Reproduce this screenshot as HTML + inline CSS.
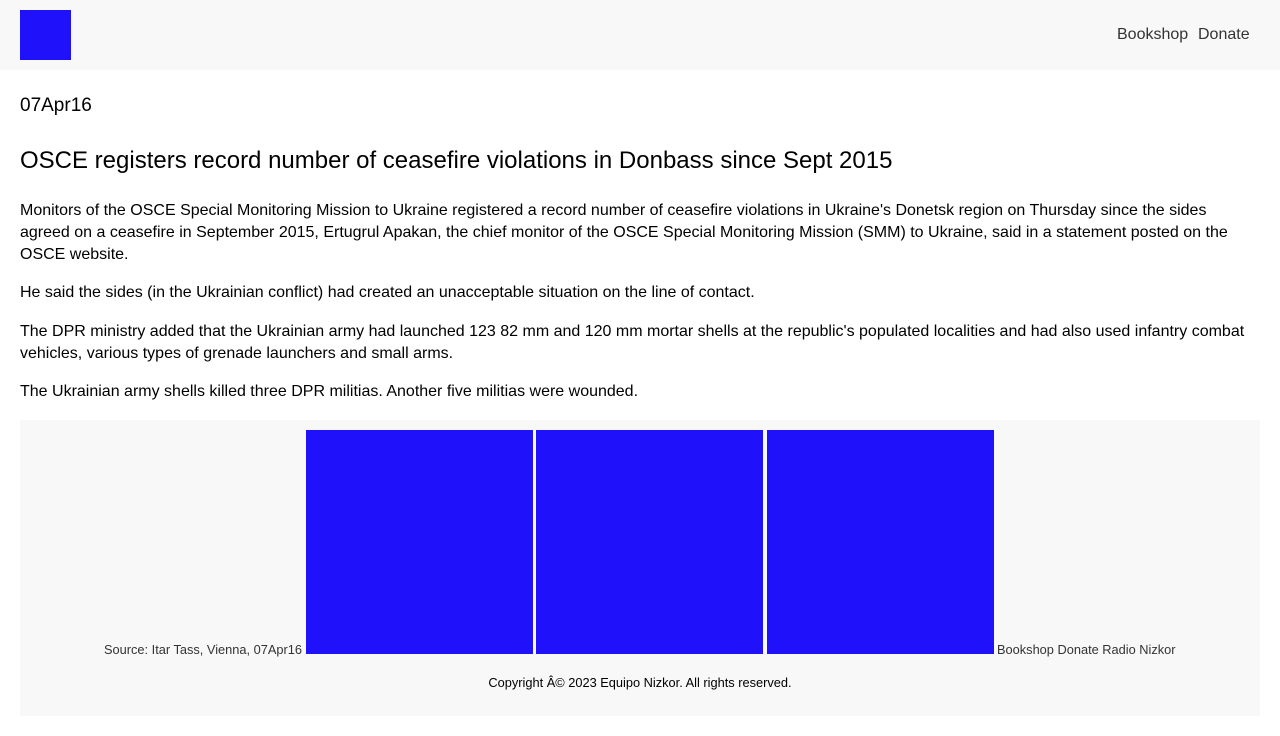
<!DOCTYPE html>
<html><head><meta charset="utf-8"><style>
body{margin:0;width:1280px;height:736px;background:#fff;font-family:"Liberation Sans",sans-serif;position:relative;overflow:hidden;color:#000}
.a{position:absolute}
p{margin:0;font-size:16px;line-height:22px}
.img{position:absolute;top:430px;width:227px;height:224px;background:#1f12fb}
.sm{font-size:12.8px;color:#333;white-space:nowrap}
</style></head><body>
<div class="a" style="left:0;top:0;width:1280px;height:70px;background:#f8f8f8"></div>
<div class="a" style="left:20px;top:10px;width:51px;height:50px;background:#1f12fb"></div>
<a class="a" style="left:1117px;top:26px;font-size:16px;color:#333;text-decoration:none">Bookshop</a>
<a class="a" style="left:1198px;top:26px;font-size:16px;color:#333;text-decoration:none">Donate</a>
<div class="a" style="left:20px;top:95px;font-size:19px">07Apr16</div>
<div class="a" style="left:20px;top:147px;font-size:24px">OSCE registers record number of ceasefire violations in Donbass since Sept 2015</div>
<div class="a" style="left:20px;top:200px;width:1240px">
<p>Monitors of the OSCE Special Monitoring Mission to Ukraine registered a record number of ceasefire violations in Ukraine's Donetsk region on Thursday since the sides agreed on a ceasefire in September 2015, Ertugrul Apakan, the chief monitor of the OSCE Special Monitoring Mission (SMM) to Ukraine, said in a statement posted on the OSCE website.</p>
<p style="margin-top:16px">He said the sides (in the Ukrainian conflict) had created an unacceptable situation on the line of contact.</p>
<p style="margin-top:17px">The DPR ministry added that the Ukrainian army had launched 123 82 mm and 120 mm mortar shells at the republic's populated localities and had also used infantry combat vehicles, various types of grenade launchers and small arms.</p>
<p style="margin-top:16px">The Ukrainian army shells killed three DPR militias. Another five militias were wounded.</p>
</div>
<div class="a" style="left:20px;top:420px;width:1240px;height:296px;background:#f8f8f8"></div>
<div class="a sm" style="left:104px;top:642px">Source: Itar Tass, Vienna, 07Apr16</div>
<div class="img" style="left:306px"></div>
<div class="img" style="left:536px"></div>
<div class="img" style="left:767px"></div>
<div class="a sm" style="left:997px;top:642px">Bookshop Donate Radio Nizkor</div>
<div class="a sm" style="left:0;width:1280px;text-align:center;top:675px;color:#000">Copyright Â© 2023 Equipo Nizkor. All rights reserved.</div>
</body></html>
